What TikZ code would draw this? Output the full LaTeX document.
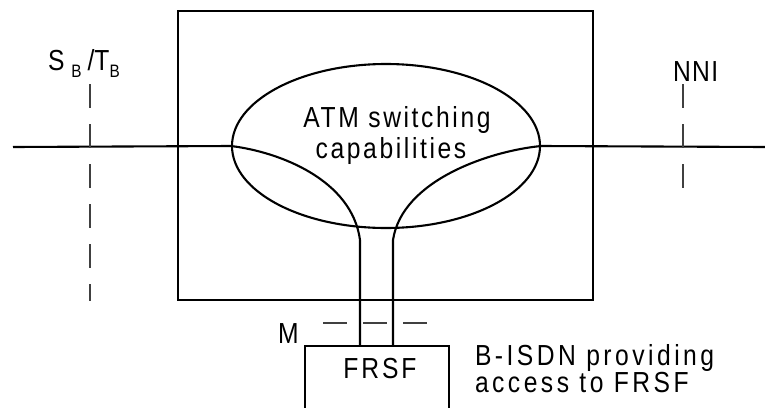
\documentclass[tikz,border=0pt]{standalone}
\usepackage{fontspec}
\setmainfont{Liberation Sans}[FakeStretch=0.85]
\newfontfamily\wideA{Liberation Sans}[FakeStretch=0.85,LetterSpace=9]
\newfontfamily\wideB{Liberation Sans}[FakeStretch=0.85,LetterSpace=12]
\newfontfamily\wideC{Liberation Sans}[FakeStretch=0.85,LetterSpace=10]
\newfontfamily\wideD{Liberation Sans}[FakeStretch=0.85,LetterSpace=5]
\usetikzlibrary{shapes.geometric}
\newcommand{\subB}{\raisebox{-7pt}{\fontsize{18}{18}\selectfont B}}
\begin{document}
\begin{tikzpicture}[x=1pt,y=-1pt,line width=2.1pt,
  dashline/.style={line width=1.1pt,draw=black!75,dash pattern=on 24pt off 16pt},
  lbl/.style={inner sep=0pt,outer sep=0pt,anchor=base},
  txtA/.style={lbl,font=\wideA\fontsize{29}{31}\selectfont},
  txtB/.style={lbl,font=\wideB\fontsize{29}{29}\selectfont},
  txtC/.style={lbl,font=\wideC\fontsize{29}{29}\selectfont},
  txtD/.style={lbl,font=\wideD\fontsize{29}{29}\selectfont},
  plain/.style={lbl,font=\fontsize{29}{29}\selectfont}]
\useasboundingbox (0,0) rectangle (765,407);
% switch box
\node[draw,rectangle,minimum width=415pt,minimum height=289pt,inner sep=0pt] (sw) at (385.5,155.5) {};
% ellipse
\node[draw,ellipse,minimum width=308pt,minimum height=164pt,inner sep=0pt] (ell) at (386,146) {};
\node[txtA] (atm) at (397,127) {ATM switching};
\node[txtA] (cap) at (391,158) {capabilities};
% FRSF box
\node[draw,rectangle,minimum width=144pt,minimum height=74pt,inner sep=0pt] (frsf) at (377,383) {};
\node[txtC] (frsft) at (380,378) {FRSF};
% horizontal line
\coordinate (lin) at (13,147);
\coordinate (rout) at (765,147);
\draw (lin) -- (ell.west);
\draw (ell.east) -- (rout);
% channels
\coordinate (chL) at (360,346);
\coordinate (chR) at (393,346);
\draw (ell.west) .. controls (280,152) and (352,180) .. (360,240) -- (chL);
\draw (ell.east) .. controls (490,151) and (402,180) .. (393,240) -- (chR);
% reference points
\coordinate (sbt) at (90,84);
\coordinate (sbb) at (90,301);
\draw[dashline] (sbt) -- (sbb);
\coordinate (nnit) at (683,84);
\coordinate (nnib) at (683,188);
\draw[dashline] (nnit) -- (nnib);
\coordinate (ml) at (323,323);
\coordinate (mr) at (427,323);
\draw[dashline] (ml) -- (mr);
% labels
\node[plain,anchor=base west] (sblab) at (48,70) {S\hspace{7pt}\subB\hspace{6pt}/T\subB};
\node[txtD,anchor=base west] (nni) at (673,81) {NNI};
\node[plain,anchor=base west] (m) at (278,343) {M};
\node[txtB,anchor=base west] (bisdn1) at (475,365) {B-ISDN providing};
\node[txtB,anchor=base west] (bisdn2) at (475,392) {access to FRSF};
\end{tikzpicture}
\end{document}
